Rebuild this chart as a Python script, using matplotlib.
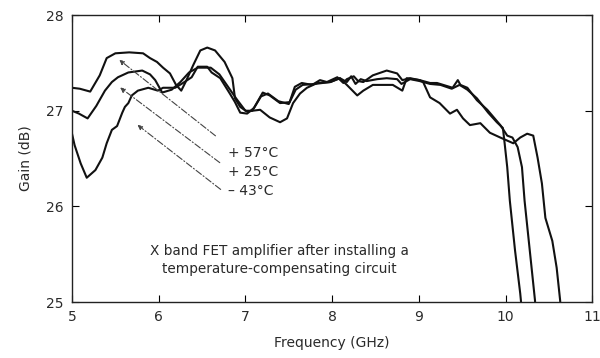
import matplotlib
matplotlib.use("Agg")
import matplotlib.pyplot as plt

# gain curves (frequency GHz, gain dB)
f_57 = [5.00, 5.09, 5.21, 5.32, 5.40, 5.50, 5.66, 5.82, 5.90, 5.98, 6.05, 6.13, 6.20, 6.26,
        6.31, 6.40, 6.48, 6.56, 6.65, 6.76, 6.85, 6.88, 6.94, 7.02, 7.08, 7.15, 7.20, 7.28,
        7.40, 7.51, 7.57, 7.65, 7.77, 7.86, 7.94, 8.06, 8.13, 8.17, 8.25, 8.30, 8.36, 8.47,
        8.63, 8.75, 8.81, 8.90, 9.01, 9.13, 9.21, 9.39, 9.45, 9.48, 9.56, 9.67, 9.79, 9.94,
        10.02, 10.08, 10.14, 10.19, 10.22, 10.28, 10.34, 10.35]
g_57 = [27.24, 27.23, 27.20, 27.37, 27.55, 27.60, 27.61, 27.60, 27.55, 27.51, 27.45, 27.39, 27.27, 27.21,
        27.30, 27.48, 27.63, 27.66, 27.63, 27.51, 27.34, 27.13, 27.04, 26.99, 27.00, 27.11, 27.19, 27.16,
        27.08, 27.09, 27.25, 27.29, 27.27, 27.32, 27.30, 27.35, 27.29, 27.33, 27.36, 27.31, 27.30, 27.37,
        27.42, 27.39, 27.32, 27.34, 27.32, 27.29, 27.29, 27.24, 27.32, 27.27, 27.24, 27.11, 27.01, 26.85,
        26.74, 26.72, 26.62, 26.41, 26.06, 25.54, 25.02, 24.90]

f_25 = [5.00, 5.08, 5.18, 5.28, 5.38, 5.46, 5.53, 5.65, 5.81, 5.90, 5.96, 6.04, 6.15, 6.25,
        6.35, 6.45, 6.60, 6.70, 6.80, 6.90, 7.00, 7.08, 7.17, 7.28, 7.40, 7.48, 7.55, 7.63,
        7.71, 7.83, 7.98, 8.09, 8.17, 8.22, 8.27, 8.33, 8.40, 8.52, 8.63, 8.75, 8.80, 8.90,
        9.01, 9.13, 9.25, 9.38, 9.47, 9.56, 9.67, 9.80, 9.90, 9.97, 9.99, 10.02, 10.05, 10.11,
        10.17, 10.19]
g_25 = [27.00, 26.97, 26.92, 27.05, 27.21, 27.30, 27.35, 27.40, 27.42, 27.38, 27.32, 27.19, 27.22, 27.30,
        27.40, 27.45, 27.45, 27.38, 27.25, 27.12, 27.00, 27.00, 27.01, 26.93, 26.88, 26.92, 27.08, 27.18,
        27.24, 27.29, 27.30, 27.34, 27.30, 27.36, 27.28, 27.33, 27.31, 27.33, 27.34, 27.33, 27.28, 27.33,
        27.31, 27.28, 27.27, 27.23, 27.27, 27.22, 27.13, 26.98, 26.88, 26.82, 26.66, 26.41, 26.06, 25.54,
        25.09, 24.90]

f_43 = [5.00, 5.03, 5.10, 5.17, 5.27, 5.35, 5.40, 5.46, 5.52, 5.58, 5.61, 5.65, 5.69, 5.76,
        5.88, 5.99, 6.05, 6.11, 6.19, 6.28, 6.38, 6.45, 6.56, 6.61, 6.71, 6.82, 6.88, 6.94,
        7.02, 7.10, 7.18, 7.26, 7.38, 7.50, 7.58, 7.66, 7.80, 7.98, 8.09, 8.17, 8.29, 8.36,
        8.47, 8.70, 8.81, 8.86, 9.01, 9.05, 9.13, 9.24, 9.36, 9.44, 9.51, 9.59, 9.71, 9.82,
        9.94, 10.09, 10.17, 10.25, 10.32, 10.37, 10.42, 10.46, 10.54, 10.59, 10.63, 10.64]
g_43 = [26.76, 26.64, 26.45, 26.30, 26.38, 26.51, 26.66, 26.80, 26.84, 26.98, 27.04, 27.08, 27.16, 27.21,
        27.24, 27.21, 27.24, 27.24, 27.24, 27.29, 27.35, 27.46, 27.46, 27.40, 27.34, 27.18, 27.09, 26.98,
        26.97, 27.03, 27.15, 27.18, 27.10, 27.07, 27.22, 27.27, 27.28, 27.30, 27.34, 27.27, 27.16, 27.21,
        27.27, 27.27, 27.21, 27.34, 27.32, 27.30, 27.14, 27.08, 26.97, 27.01, 26.92, 26.85, 26.87, 26.77,
        26.72, 26.66, 26.72, 26.76, 26.74, 26.51, 26.24, 25.88, 25.64, 25.36, 25.02, 24.90]

labels = ["+ 57°C", "+ 25°C", "\u2013 43°C"]
arrow_tips = [(5.52, 27.55), (5.53, 27.26), (5.73, 26.87)]
arrow_tails = [(6.68, 26.72), (6.73, 26.44), (6.74, 26.16)]
label_pos = [(6.80, 26.56), (6.80, 26.36), (6.80, 26.16)]

fig = plt.figure(figsize=(6.0, 3.58), dpi=100)
ax = fig.add_axes([0.12, 0.156, 0.867, 0.802])

for f, g in [(f_57, g_57), (f_25, g_25), (f_43, g_43)]:
    ax.plot(f, g, color="#111111", lw=1.5, solid_joinstyle="round")

txt = "#2a2a2a"
for lab, tip, tail, pos in zip(labels, arrow_tips, arrow_tails, label_pos):
    ax.annotate("", xy=tip, xytext=tail,
                arrowprops=dict(arrowstyle="-|>", color="#444444", lw=0.8,
                                linestyle=(0, (6, 2, 1, 2)), mutation_scale=7))
    ax.text(pos[0], pos[1], lab, fontsize=10, color=txt, va="center", ha="left")

ax.text(7.39, 25.44, "X band FET amplifier after installing a\ntemperature-compensating circuit",
        fontsize=9.8, color=txt, ha="center", va="center", linespacing=1.3)

ax.set_xlim(5, 11)
ax.set_ylim(25, 28)
ax.set_xticks([5, 6, 7, 8, 9, 10, 11])
ax.set_yticks([25, 26, 27, 28])
ax.tick_params(direction="in", top=True, right=True, length=5, width=0.8,
               labelsize=10, labelcolor=txt, pad=6)
for s in ax.spines.values():
    s.set_linewidth(1.0)
    s.set_color("#222222")

ax.set_xlabel("Frequency (GHz)", fontsize=10, color=txt, labelpad=8)
ax.set_ylabel("Gain (dB)", fontsize=10, color=txt, labelpad=10)

fig.savefig("out.png", dpi=100)
